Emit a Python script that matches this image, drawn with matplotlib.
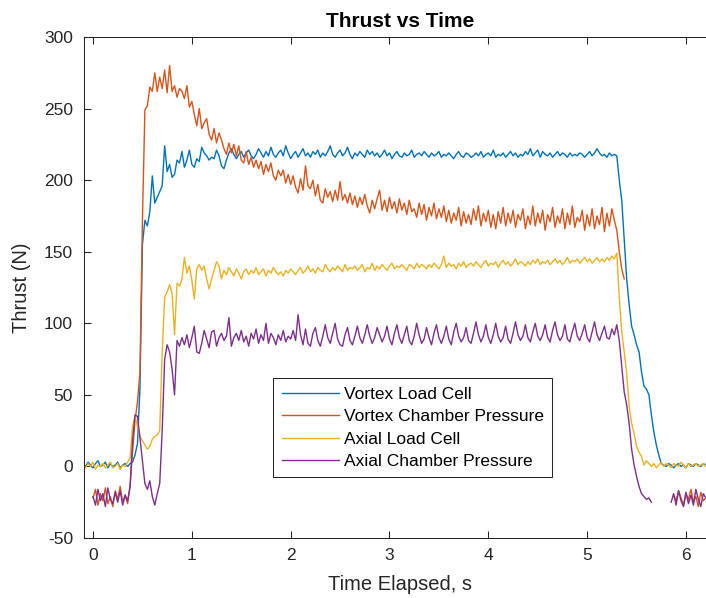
import numpy as np
import matplotlib
matplotlib.use("Agg")
import matplotlib.pyplot as plt

plt.rcParams["font.family"] = ["Liberation Sans", "DejaVu Sans"]
plt.rcParams["axes.unicode_minus"] = False

# Logger sample interval (s); each series lists one reading per sample,
# ten samples (0.25 s) per row.  None marks samples with no valid reading.
SAMPLE_DT = 0.025

series_names = ["Vortex Load Cell", "Vortex Chamber Pressure",
                "Axial Load Cell", "Axial Chamber Pressure"]
series_colors = ["#0072BD", "#D95319", "#EDB120", "#7E2F8E"]
series_start = [-0.1, 0.0, -0.1, 0.0]

vortex_load_cell = [
    2, 0, 3, 1, -1, 2, 4, 0, 1, 3,
    -1, 2, 0, 1, 3, -1, 1, 2, 0, 2,
    3, 8, 16, 55, 155, 172, 168, 178, 203, 184,
    188, 192, 196, 224, 206, 211, 202, 204, 214, 212,
    220, 209, 214, 221, 211, 209, 215, 213, 223, 219,
    217, 214, 216, 215, 221, 217, 210, 208, 214, 219,
    222, 218, 215, 218, 220, 216, 219, 221, 217, 215,
    218, 222, 219, 216, 220, 217, 223, 218, 216, 219,
    221, 217, 224, 219, 215, 218, 220, 216, 219, 222,
    217, 219, 216, 220, 218, 221, 216, 219, 217, 220,
    224, 218, 216, 219, 221, 217, 219, 223, 218, 215,
    219, 217, 220, 218, 216, 221, 218, 220, 217, 219,
    216, 218, 221, 217, 219, 215, 218, 220, 217, 216,
    219, 217, 218, 221, 216, 218, 219, 217, 220, 218,
    216, 219, 217, 218, 220, 216, 218, 217, 219, 217,
    215, 218, 220, 217, 216, 219, 218, 216, 217, 219,
    217, 220, 216, 218, 219, 217, 221, 216, 218, 217,
    219, 216, 218, 220, 217, 219, 216, 218, 217, 220,
    218, 222, 217, 219, 221, 216, 220, 218, 217, 219,
    216, 218, 220, 217, 219, 218, 216, 219, 217, 218,
    217, 219, 218, 216, 218, 220, 217, 219, 222, 219,
    217, 218, 216, 219, 217, 218, 217, 200, 186, 158,
    131, 113, 98, 92, 85, 80, 66, 56, 54, 50,
    36, 24, 15, 8, 2, 1, 0, 2, 1, -1,
    1, 2, 0, 1, -1, 2, 1, 0, 2, 1,
    0, 2, 1,
]

vortex_chamber_pressure = [
    -22, -16, -27, -19, -24, -15, -26, -21, -28, -17,
    -23, -14, -25, -20, -26, -14, 10, 32, 45, 66,
    172, 249, 252, 265, 262, 275, 262, 272, 264, 277,
    261, 280, 262, 266, 258, 264, 262, 257, 266, 251,
    255, 246, 238, 250, 236, 240, 243, 232, 228, 236,
    226, 233, 228, 222, 218, 226, 219, 225, 217, 224,
    214, 212, 220, 211, 216, 209, 214, 208, 213, 204,
    211, 206, 212, 203, 200, 207, 203, 207, 198, 204,
    197, 203, 195, 191, 201, 193, 210, 196, 194, 200,
    189, 197, 186, 184, 194, 188, 192, 185, 193, 186,
    199, 186, 190, 184, 191, 183, 189, 181, 188, 183,
    190, 182, 177, 186, 180, 187, 193, 179, 186, 178,
    188, 180, 185, 177, 187, 179, 184, 176, 186, 178,
    180, 174, 184, 176, 183, 172, 181, 175, 184, 173,
    180, 174, 182, 171, 179, 170, 177, 172, 181, 168,
    178, 170, 176, 169, 180, 172, 182, 168, 177, 171,
    179, 167, 176, 166, 178, 170, 181, 168, 177, 170,
    179, 167, 176, 172, 180, 166, 175, 169, 182, 168,
    177, 170, 179, 165, 176, 171, 181, 167, 175, 170,
    180, 166, 177, 169, 182, 167, 174, 171, 179, 165,
    176, 168, 180, 166, 175, 169, 181, 164, 177, 168,
    180, 172, 165, 150, 138, 131, None, None, None, None,
    None, None, None, None, None, None, None, None, None, None,
    None, None, None, None, None, -20, -24, -17, -22, -27,
    -19, -23, -16, -25, -21, -28, -18, -24, -22,
]

axial_load_cell = [
    1, -1, 2, 0, 3, -2, 1, 0, 2, -1,
    1, 3, -1, 0, 2, -2, 1, 0, 3, 6,
    28, 35, 28, 21, 18, 15, 12, 14, 19, 21,
    22, 25, 80, 118, 122, 127, 121, 92, 128, 126,
    131, 146, 135, 140, 130, 117, 138, 141, 137, 140,
    131, 124, 131, 137, 143, 140, 131, 137, 134, 139,
    136, 133, 138, 135, 131, 136, 138, 134, 137, 135,
    139, 134, 136, 138, 133, 137, 135, 139, 136, 134,
    136, 133, 137, 135, 138, 136, 134, 137, 139, 135,
    137, 140, 136, 138, 135, 139, 137, 136, 141, 138,
    136, 139, 137, 140, 138, 136, 141, 137, 139, 138,
    140, 137, 139, 141, 136, 139, 138, 142, 137, 140,
    138, 141, 139, 137, 140, 142, 138, 140, 139, 141,
    139, 137, 141, 140, 138, 142, 139, 141, 140, 138,
    141, 139, 142, 140, 138, 141, 147, 139, 142, 140,
    141, 138, 142, 140, 143, 139, 141, 142, 140, 143,
    141, 139, 142, 144, 140, 142, 141, 143, 139, 142,
    144, 141, 143, 140, 142, 145, 141, 143, 142, 140,
    143, 141, 144, 142, 145, 141, 143, 142, 144, 141,
    143, 145, 142, 144, 141, 143, 146, 142, 144, 143,
    145, 142, 144, 146, 143, 145, 142, 144, 146, 143,
    145, 143, 146, 144, 147, 145, 149, 118, 94, 80,
    65, 42, 30, 23, 14, 10, 7, 1, 4, 2,
    0, 2, -1, 1, 3, 0, 2, 1, -1, 2,
    1, 0, 3, 1, -1, 2, 0, 1, 2, 0,
    1, 2, 0,
]

axial_chamber_pressure = [
    -21, -27, -16, -24, -19, -28, -15, -23, -26, -18,
    -25, -17, -27, -20, -24, -14, 18, 36, 35, 20,
    4, -12, -16, -10, -21, -27, -19, -12, 25, 75,
    85, 80, 68, 50, 88, 84, 90, 85, 92, 83,
    90, 98, 80, 79, 86, 95, 89, 83, 94, 95,
    84, 90, 93, 88, 91, 104, 84, 90, 93, 88,
    95, 87, 91, 84, 93, 89, 96, 86, 92, 88,
    100, 86, 93, 90, 85, 92, 88, 95, 87, 91,
    89, 95, 88, 106, 92, 85, 96, 86, 84, 93,
    97, 88, 84, 91, 99, 90, 86, 93, 100, 89,
    85, 84, 92, 97, 88, 85, 91, 98, 90, 86,
    92, 99, 91, 86, 90, 97, 92, 87, 91, 98,
    89, 85, 93, 99, 90, 86, 92, 98, 88, 85,
    91, 100, 92, 86, 89, 97, 90, 85, 93, 99,
    90, 86, 91, 98, 89, 85, 94, 100, 91, 87,
    90, 97, 88, 86, 93, 101, 92, 87, 91, 99,
    90, 86, 92, 100, 91, 87, 90, 98, 89, 86,
    93, 101, 92, 88, 91, 99, 90, 87, 94, 100,
    91, 88, 92, 99, 90, 87, 95, 101, 92, 88,
    91, 99, 89, 87, 94, 100, 91, 88, 93, 99,
    90, 87, 94, 101, 92, 88, 93, 98, 90, 89,
    96, 92, 99, 88, 70, 52, 43, 30, 12, 1,
    -7, -14, -19, -21, -23, -22, -25, None, None, None,
    None, None, None, None, -25, -19, -27, -17, -24, -28,
    -18, -26, -20, -27, -16, -23, -28, -19, -22,
]

series_values = [vortex_load_cell, vortex_chamber_pressure,
                 axial_load_cell, axial_chamber_pressure]

x_ticks = [0, 1, 2, 3, 4, 5, 6]
y_ticks = [-50, 0, 50, 100, 150, 200, 250, 300]

AX_COLOR = "#262626"

fig = plt.figure(figsize=(7.06, 5.98), dpi=100)
ax = fig.add_axes([0.1183, 0.1003, 0.8959, 0.8378])

for name, color, t0, vals in zip(series_names, series_colors,
                                 series_start, series_values):
    y = np.array(vals, dtype=float)
    t = t0 + SAMPLE_DT * np.arange(len(y))
    ax.plot(t, y, color=color, linewidth=1.0, label=name)

ax.set_xlim(-0.096, 6.304)
ax.set_ylim(-50, 300)
ax.set_xticks(x_ticks)
ax.set_yticks(y_ticks)

ax.tick_params(direction="in", length=5, width=0.75, colors=AX_COLOR,
               labelsize=12.5, pad=7.5, top=True, right=True)
for sp in ax.spines.values():
    sp.set_color(AX_COLOR)
    sp.set_linewidth(0.75)

ax.set_title("Thrust vs Time", fontsize=15, fontweight="bold",
             color="black", pad=7)
ax.set_xlabel("Time Elapsed, s", fontsize=14.5, color=AX_COLOR)
ax.set_ylabel("Thrust (N)", fontsize=14.5, color=AX_COLOR)
ax.xaxis.set_label_coords(0.5, -0.074)
ax.yaxis.set_label_coords(-0.083, 0.5)

leg = ax.legend(loc="upper left", bbox_to_anchor=(0.300, 0.3188),
                borderaxespad=0, fontsize=12.5, frameon=True,
                fancybox=False, edgecolor=AX_COLOR, framealpha=1,
                handlelength=3.3, handletextpad=0.3, borderpad=0.48,
                labelspacing=0.42)
leg.get_frame().set_linewidth(0.75)

fig.savefig("out.png", dpi=100)
